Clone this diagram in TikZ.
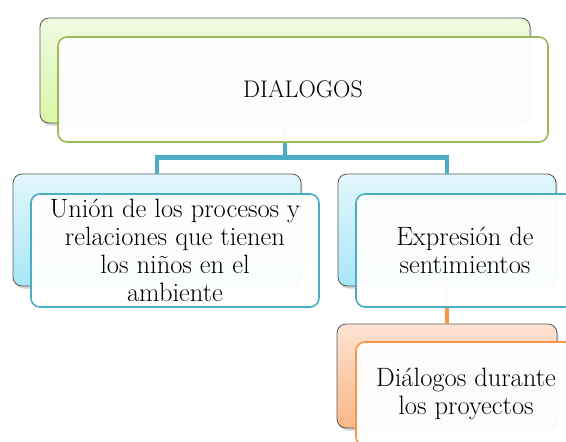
\documentclass[tikz,border=0pt]{standalone}
\usetikzlibrary{shadows,positioning}

\definecolor{grnline}{HTML}{9BBB59}
\definecolor{bluline}{HTML}{4BACC6}
\definecolor{orgline}{HTML}{F79646}

\tikzset{
  backbox/.style={draw=black!65, rounded corners=9pt, line width=0.8pt,
    drop shadow={shadow xshift=1.5pt, shadow yshift=-2.5pt, opacity=0.35}},
  frontbox/.style={draw, fill=white, fill opacity=0.96, text opacity=1,
    rounded corners=9pt, line width=1.6pt, align=center,
    font=\fontsize{26.5}{28}\selectfont},
  conn/.style={line width=4.5pt}
}

\begin{document}
\begin{tikzpicture}[x=1pt,y=-1pt]
\useasboundingbox (0,0) rectangle (566,442);

% boxes behind
\node[backbox, top color={rgb,255:red,240;green,250;blue,226}, bottom color={rgb,255:red,217;green,247;blue,168},
      minimum width=490pt, minimum height=105pt] (dialb) at (285,70.5) {};
\node[backbox, top color={rgb,255:red,227;green,247;blue,252}, bottom color={rgb,255:red,168;green,230;blue,247},
      minimum width=288pt, minimum height=112pt] (unionb) at (157,230) {};
\node[backbox, top color={rgb,255:red,227;green,247;blue,252}, bottom color={rgb,255:red,168;green,230;blue,247},
      minimum width=218pt, minimum height=112pt] (exprb) at (447,230) {};
\node[backbox, top color={rgb,255:red,252;green,227;blue,210}, bottom color={rgb,255:red,249;green,183;blue,135},
      minimum width=220pt, minimum height=104pt] (dialgb) at (447,376) {};

% connectors
\draw[conn, draw=bluline] (dialb.south) -- ++(0,34) coordinate (fork);
\draw[conn, draw=bluline] (unionb.north) |- (fork) -| (exprb.north);
\draw[conn, draw=orgline] (exprb.south) -- (dialgb.north);

% boxes in front
\node[frontbox, draw=grnline, minimum width=490pt, minimum height=105pt,
      font=\fontsize{24}{28}\selectfont] (dialf)
      at ([xshift=18pt,yshift=-19pt]dialb.center) {DIALOGOS};
\node[frontbox, draw=bluline, minimum width=288pt, minimum height=113pt] (unionf)
      at ([xshift=18pt,yshift=-20.5pt]unionb.center)
      {Unión de los procesos y\\relaciones que tienen\\los niños en el\\ambiente};
\node[frontbox, draw=bluline, minimum width=218pt, minimum height=113pt] (exprf)
      at ([xshift=18pt,yshift=-20.5pt]exprb.center) {Expresión de\\sentimientos};
\node[frontbox, draw=orgline, minimum width=220pt, minimum height=104pt] (dialgf)
      at ([xshift=19pt,yshift=-18pt]dialgb.center) {Diálogos durante\\los proyectos};
\end{tikzpicture}
\end{document}
